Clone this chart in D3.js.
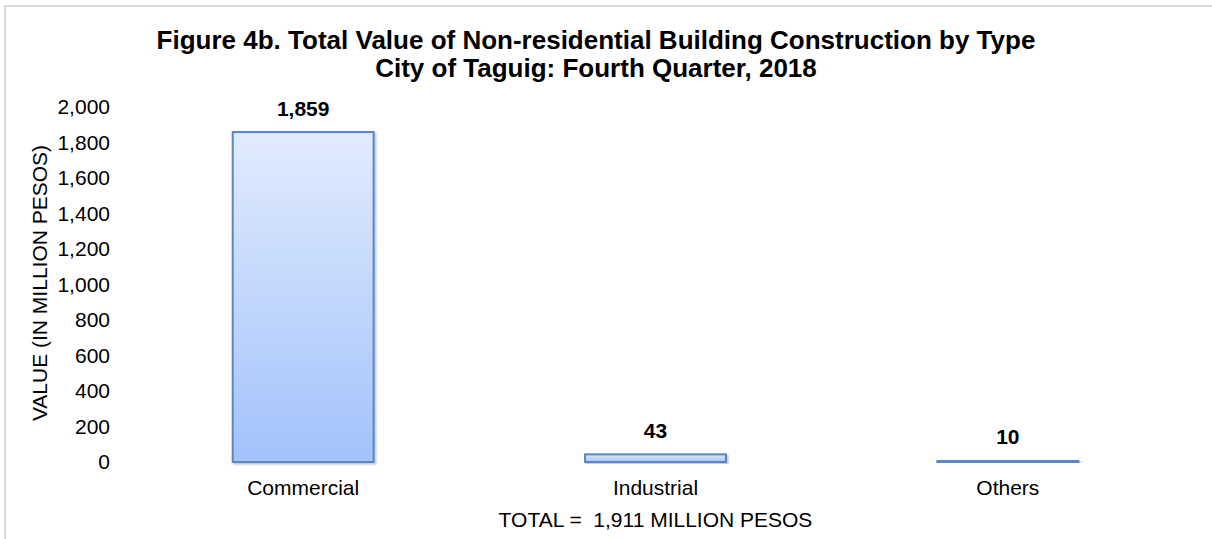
<!DOCTYPE html>
<html>
<head>
<meta charset="utf-8">
<script src="https://cdn.jsdelivr.net/npm/d3@7"></script>
<style>
  body { margin: 0; background: #fff; }
  svg { display: block; font-family: Arial, "Liberation Sans", sans-serif; }
</style>
</head>
<body>
<div id="chart"></div>
<script>
var categories = ["Commercial", "Industrial", "Others"];
var values = [1859, 43, 10];
var yTicks = [0, 200, 400, 600, 800, 1000, 1200, 1400, 1600, 1800, 2000];
var titleLines = ["Figure 4b. Total Value of Non-residential Building Construction by Type",
                  "City of Taguig: Fourth Quarter, 2018"];
var yLabel = "VALUE (IN MILLION PESOS)";
var totalLabel = "TOTAL =  1,911 MILLION PESOS";

var W = 1212, H = 539;
var margin = { top: 107, right: 28, bottom: 77, left: 127 },
    width = W - margin.left - margin.right,
    height = H - margin.top - margin.bottom;

var svg = d3.select("#chart").append("svg")
    .attr("width", W)
    .attr("height", H);

// outer frame (only top + left visible in the reference)
svg.append("path")
    .attr("d", "M5,539 V6 H1212")
    .attr("fill", "none")
    .attr("stroke", "#d9d9d9")
    .attr("stroke-width", 2);

var defs = svg.append("defs");
var grad = defs.append("linearGradient")
    .attr("id", "barFill")
    .attr("x1", 0).attr("y1", 0)
    .attr("x2", 0).attr("y2", 1);
grad.append("stop").attr("offset", "0%").attr("stop-color", "#e1ebfd");
grad.append("stop").attr("offset", "100%").attr("stop-color", "#a3c2fb");

var shadow = defs.append("filter")
    .attr("id", "shadow")
    .attr("x", "-10%").attr("y", "-10%")
    .attr("width", "130%").attr("height", "130%");
shadow.append("feDropShadow")
    .attr("dx", 1.5).attr("dy", 1.5)
    .attr("stdDeviation", 1.2)
    .attr("flood-color", "#000")
    .attr("flood-opacity", 0.25);

var g = svg.append("g")
    .attr("transform", "translate(" + margin.left + "," + margin.top + ")");

var x = d3.scaleBand()
    .domain(categories)
    .range([0, width])
    .paddingInner(0.6)
    .paddingOuter(0.3);

var y = d3.scaleLinear()
    .domain([0, 2000])
    .range([height, 0]);

// title
svg.append("text")
    .attr("text-anchor", "middle")
    .style("font-size", "26px")
    .style("font-weight", "bold")
    .style("fill", "#000")
    .selectAll("tspan")
    .data(titleLines)
    .enter().append("tspan")
    .attr("x", 596)
    .attr("y", function(d, i) { return 49 + i * 28; })
    .text(function(d) { return d; });

// y axis (labels only)
var yAxis = g.append("g")
    .attr("class", "y axis")
    .call(d3.axisLeft(y).tickValues(yTicks).tickSize(0).tickPadding(17).tickFormat(d3.format(",")));
yAxis.select(".domain").remove();
yAxis.selectAll("text")
    .style("font-size", "21px")
    .style("font-family", "Arial, 'Liberation Sans', sans-serif")
    .style("fill", "#000");

// x axis (labels only)
var xAxis = g.append("g")
    .attr("class", "x axis")
    .attr("transform", "translate(0," + height + ")")
    .call(d3.axisBottom(x).tickSize(0).tickPadding(18));
xAxis.select(".domain").remove();
xAxis.selectAll("text")
    .style("font-size", "21px")
    .style("font-family", "Arial, 'Liberation Sans', sans-serif")
    .style("fill", "#000");

// bars
var data = categories.map(function(c, i) { return { cat: c, value: values[i] }; });

g.selectAll(".bar")
    .data(data)
    .enter().append("rect")
    .attr("class", "bar")
    .attr("x", function(d) { return x(d.cat); })
    .attr("y", function(d) { return y(d.value); })
    .attr("width", x.bandwidth())
    .attr("height", function(d) { return height - y(d.value); })
    .attr("fill", "url(#barFill)")
    .attr("stroke", "#5a87c5")
    .attr("stroke-width", 2)
    .attr("filter", "url(#shadow)");

g.selectAll(".value-label")
    .data(data)
    .enter().append("text")
    .attr("class", "value-label")
    .attr("x", function(d) { return x(d.cat) + x.bandwidth() / 2; })
    .attr("y", function(d) { return y(d.value) - 16; })
    .attr("text-anchor", "middle")
    .style("font-size", "21px")
    .style("font-weight", "bold")
    .style("fill", "#000")
    .text(function(d) { return d3.format(",")(d.value); });

// y axis title
svg.append("text")
    .attr("transform", "translate(47,283) rotate(-90)")
    .attr("text-anchor", "middle")
    .style("font-size", "21px")
    .style("fill", "#000")
    .text(yLabel);

// total note, centred under the plot area
svg.append("text")
    .attr("x", margin.left + width / 2)
    .attr("y", 527)
    .attr("text-anchor", "middle")
    .style("font-size", "21px")
    .style("white-space", "pre")
    .style("fill", "#000")
    .text(totalLabel);
</script>
</body>
</html>
